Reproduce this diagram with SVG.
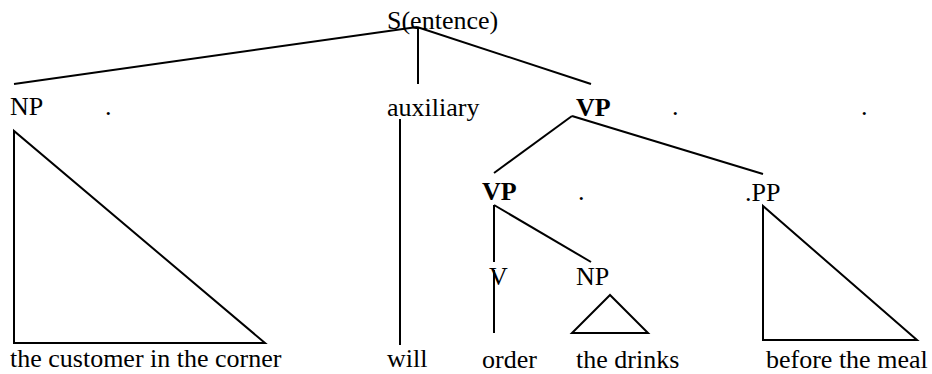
<svg xmlns="http://www.w3.org/2000/svg" width="932" height="374" viewBox="0 0 932 374">
  <style>
    text { font-family: "Liberation Serif", "Times New Roman", serif; font-size: 26px; fill: #000; }
    .b { font-weight: bold; }
    line, polygon { stroke: #000; stroke-width: 2; fill: none; }
  </style>
  <rect width="932" height="374" fill="#fff"/>

  <!-- branches of the tree -->
  <g id="connectors">
    <line x1="417" y1="27" x2="14" y2="84"/>
    <line x1="418" y1="27" x2="418" y2="84"/>
    <line x1="417" y1="27" x2="591" y2="84"/>
    <line x1="400" y1="119" x2="400" y2="345"/>
    <line x1="572" y1="116" x2="494" y2="173"/>
    <line x1="572" y1="116" x2="763" y2="174"/>
    <line x1="494" y1="205" x2="494" y2="262"/>
    <line x1="494" y1="270" x2="494" y2="333"/>
    <line x1="494" y1="205" x2="591" y2="262"/>
  </g>

  <g id="s">
    <text x="387" y="29">S(entence)</text>
  </g>

  <g id="np-subject">
    <text x="10" y="115">NP</text>
    <text x="105" y="115">.</text>
    <polygon points="14,131 14,343 265,343"/>
    <text x="10" y="367">the customer in the corner</text>
  </g>

  <g id="auxiliary">
    <text x="387" y="116">auxiliary</text>
    <text x="387" y="367">will</text>
  </g>

  <g id="vp-top">
    <text class="b" x="576" y="116">VP</text>
    <text x="672" y="115">.</text>
    <text x="861" y="115">.</text>
  </g>

  <g id="vp-inner">
    <text class="b" x="482" y="200">VP</text>
    <text x="578" y="200">.</text>
  </g>

  <g id="v">
    <text x="489" y="285">V</text>
    <text x="482" y="368">order</text>
  </g>

  <g id="np-object">
    <text x="576" y="285">NP</text>
    <polygon points="610,295 572,333 648,333"/>
    <text x="576" y="368">the drinks</text>
  </g>

  <g id="pp">
    <text x="745" y="201">.PP</text>
    <polygon points="763,206 763,340 917,340"/>
    <text x="766" y="368">before the meal</text>
  </g>
</svg>
